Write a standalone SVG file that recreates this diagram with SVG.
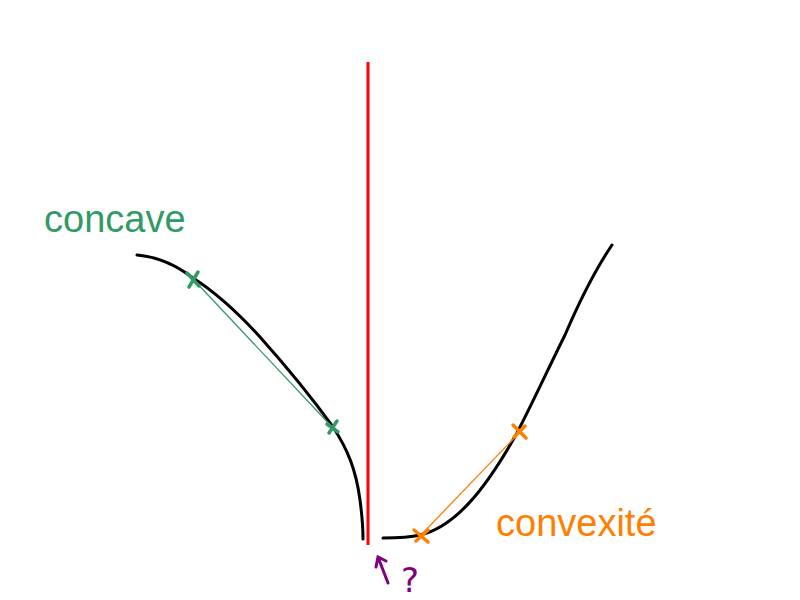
<svg xmlns="http://www.w3.org/2000/svg" width="800" height="600" viewBox="0 0 800 600">
<style>
.curve{fill:none;stroke:#000;stroke-width:3;stroke-linecap:round;stroke-linejoin:round}
.lbl{font-family:"Liberation Sans",Arial,sans-serif;font-size:38px}
</style>
<rect width="800" height="600" fill="#fff"/>
<g id="axis"><line x1="368" y1="62" x2="368" y2="545" stroke="#ff0000" stroke-width="3"/></g>
<g id="concave-curve">
<path class="curve" d="M137,255 C160,257 180,268 193,278 C215,292 240,315 260,337 C285,365 310,395 333,427 C348,450 356,470 360,500 C362,515 363,528 363,539"/>
</g>
<g id="convex-curve">
<path class="curve" d="M383,538 C400,538 412,537 420,535 C455,527 485,490 517,433 C535,398 550,365 565,335 C580,300 595,270 612,245"/>
</g>
<g id="connectors">
<line x1="193" y1="279" x2="333" y2="428" stroke="#339966" stroke-width="1.3"/>
<g stroke="#339966" stroke-width="3.5" stroke-linecap="round">
<path d="M187,273 L199,286 M198,272 L189,287"/>
<path d="M327,424 L338,432 M337,421 L329,433"/>
</g>
<line x1="420" y1="536" x2="520" y2="432" stroke="#ff7f00" stroke-width="1.3"/>
<g stroke="#ff7f00" stroke-width="3.5" stroke-linecap="round">
<path d="M414,530 L428,542 M428,530 L416,541"/>
<path d="M513,425 L526,438 M525,426 L514,437"/>
</g>
<g stroke="#800080" stroke-width="3" stroke-linecap="round" fill="none">
<path d="M388,583 L378,557 M376,567 L378,557 L386,561"/>
</g>
</g>
<g id="labels">
<text class="lbl" x="44" y="232" fill="#339966">concave</text>
<text class="lbl" x="496" y="536" fill="#ff7f00">convexité</text>
<text x="401" y="592" fill="#800080" font-family="'DejaVu Sans',sans-serif" font-size="34">?</text>
</g>
</svg>
